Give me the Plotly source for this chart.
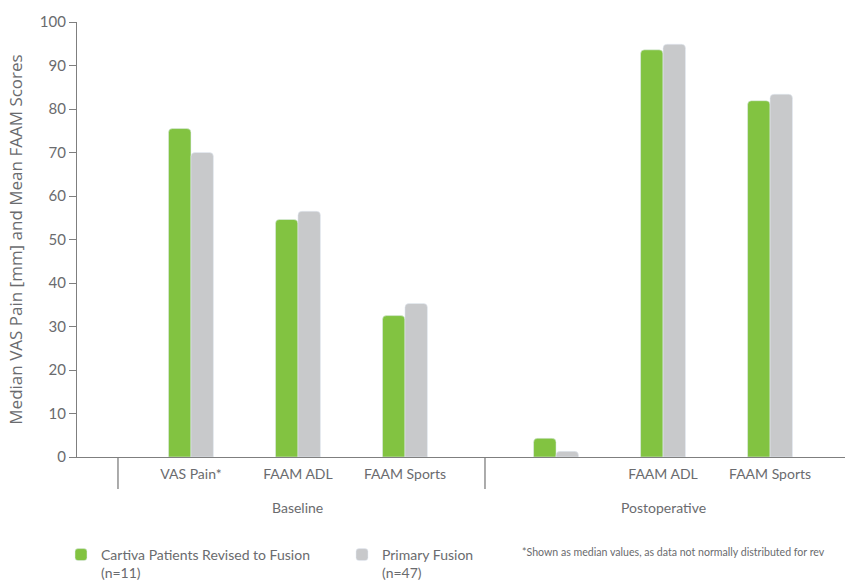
import plotly.graph_objects as go

# ---- data ----
groups = ["Baseline", "Postoperative"]
tick_labels = ["VAS Pain*", "FAAM ADL", "FAAM Sports", "", "FAAM ADL", "FAAM Sports"]
cartiva = [75.5, 54.6, 32.5, 4.3, 93.6, 81.9]
primary = [70.0, 56.5, 35.3, 1.3, 94.9, 83.4]
series_names = ["Cartiva Patients Revised to Fusion<br>(n=11)", "Primary Fusion<br>(n=47)"]
footnote = "*Shown as median values, as data not normally distributed for rev"
y_title = "Median VAS Pain [mm] and Mean FAAM Scores"

# ---- layout positions (category slots on a numeric axis) ----
x_pos = [1.065, 2.065, 3.065, 4.477, 5.477, 6.477]
dividers = [0.383, 3.813]
group_label_x = [x_pos[1], x_pos[4]]

GREEN = "#82C341"
GRAY = "#C8C9CB"
TEXT = "#6A6B6E"
AXIS = "#7F7F7F"
NARROW = "Lato, sans-serif"

W, H = 849, 585
L, R, T, B = 77, 4, 22, 128
pw, ph = W - L - R, H - T - B

bw = 0.21
fig = go.Figure()
fig.add_trace(go.Bar(x=x_pos, y=cartiva, name=series_names[0], marker_color=GREEN,
                     width=bw, offset=-bw, marker_cornerradius=4))
fig.add_trace(go.Bar(x=x_pos, y=primary, name=series_names[1], marker_color=GRAY,
                     width=bw, offset=0, marker_cornerradius=4))

shapes = []
for d in dividers:
    shapes.append(dict(type="line", xref="x", yref="paper", x0=d, x1=d, y0=0, y1=-32 / ph,
                       line=dict(color=AXIS, width=1.3)))

annotations = []
for g, gx in zip(groups, group_label_x):
    annotations.append(dict(text=g, x=gx, xref="x", y=-50 / ph, yref="paper", showarrow=False,
                            xanchor="center", yanchor="middle",
                            font=dict(family=NARROW, size=14, color=TEXT)))
annotations.append(dict(text=footnote, x=(520 - L) / pw, xref="paper",
                        y=-(552 - (H - B)) / ph, yref="paper", showarrow=False,
                        xanchor="left", yanchor="middle",
                        font=dict(family=NARROW, size=10.6, color=TEXT)))

fig.update_layout(
    width=W, height=H,
    margin=dict(l=L, r=R, t=T, b=B),
    plot_bgcolor="white", paper_bgcolor="white",
    showlegend=True,
    legend=dict(orientation="h", xref="container", x=61 / W, xanchor="left",
                yref="container", y=(H - 539) / H, yanchor="top",
                valign="top", entrywidth=236, entrywidthmode="pixels",
                font=dict(family=NARROW, size=14, color=TEXT), traceorder="normal"),
    xaxis=dict(range=[0, pw / 107], tickvals=x_pos, ticktext=tick_labels,
               showgrid=False, zeroline=False, showline=True, linecolor=AXIS, linewidth=1.3,
               ticks="", tickfont=dict(family=NARROW, size=14, color=TEXT),
               ticklabelstandoff=4),
    yaxis=dict(range=[0, 100], tickvals=list(range(0, 101, 10)), showgrid=False,
               zeroline=False, showline=True, linecolor=AXIS, linewidth=1.3,
               ticks="outside", ticklen=7, tickcolor=AXIS, tickwidth=1.3,
               tickfont=dict(family=NARROW, size=15, color=TEXT),
               title=dict(text=y_title, font=dict(family="Open Sans, sans-serif", size=17, color=TEXT),
                          standoff=12)),
    shapes=shapes,
    annotations=annotations,
)

fig.write_html("out.html")
